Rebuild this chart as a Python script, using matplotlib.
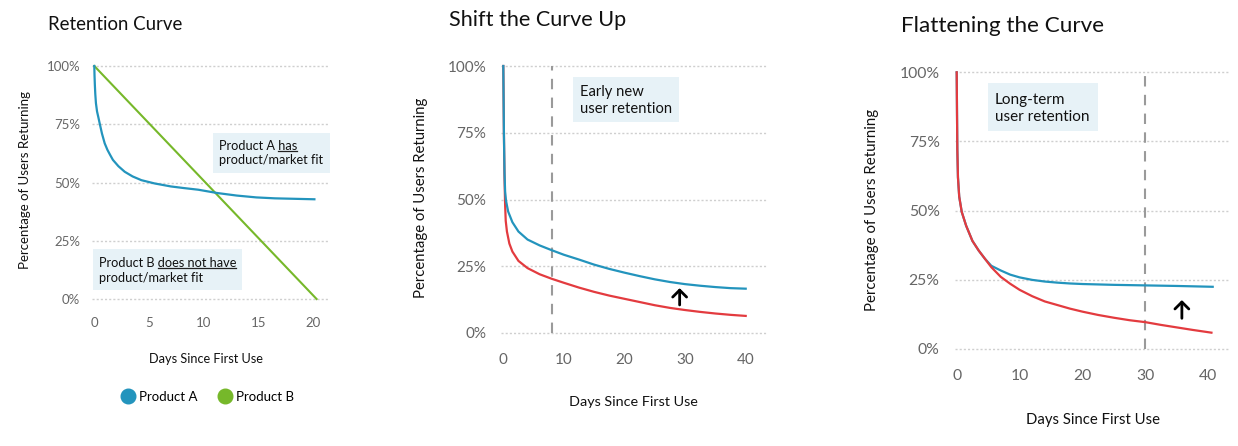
import matplotlib
matplotlib.use("Agg")
import matplotlib.pyplot as plt
from matplotlib.patches import Rectangle
from matplotlib.lines import Line2D

# ---------------- data ----------------
# Panel 1: Retention Curve
p1_days_a = [0, 0.02, 0.05, 0.09, 0.15, 0.25, 0.37, 0.49, 0.7, 0.95, 1.2, 1.45, 1.7, 2.2, 2.78, 3.5, 4.3, 5.5, 7.0, 8.2, 9.5, 11.2, 13, 14.8, 16.5, 18.3, 20.1]
p1_ret_a = [100, 96, 92, 88, 84, 80.5, 78, 75.4, 71, 66.8, 64, 61.8, 59.7, 57, 54.6, 52.6, 51, 49.6, 48.3, 47.6, 46.9, 45.5, 44.4, 43.6, 43.2, 43.0, 42.8]
p1_days_b = [0, 20.3]
p1_ret_b = [100, 0]

# Panel 2: Shift the Curve Up
p2_days_blue = [0, 0.1, 0.2, 0.3, 0.45, 0.8, 1.5, 2.5, 4, 6, 8, 10, 12.5, 15, 17.5, 20, 22.5, 25, 27.5, 30, 32.5, 35, 37.5, 40]
p2_ret_blue = [100, 75, 60, 53, 49.5, 45.5, 41.5, 38, 35, 32.8, 31, 29.3, 27.5, 25.6, 24, 22.6, 21.3, 20.1, 19.1, 18.3, 17.7, 17.2, 16.8, 16.6]
p2_days_red = [0, 0.1, 0.2, 0.3, 0.4, 0.6, 1, 1.5, 2.5, 4, 6, 8, 10, 12.5, 15, 17.5, 20, 22.5, 25, 27.5, 30, 32.5, 35, 37.5, 40]
p2_ret_red = [100, 75, 58, 48, 42, 38, 33.5, 30.5, 27, 24.3, 22, 20.3, 18.8, 17, 15.4, 14, 12.8, 11.6, 10.4, 9.4, 8.6, 7.9, 7.3, 6.8, 6.4]
p2_marker_day = 8
p2_arrow_day = 29.1
p2_arrow_from, p2_arrow_to = 10.5, 16.8

# Panel 3: Flattening the Curve
p3_days_blue = [0, 0.05, 0.1, 0.2, 0.4, 0.8, 1.5, 2.5, 3.5, 4.5, 5.5, 7, 8.5, 10, 12, 14, 16, 18, 20, 25, 30, 35, 40.7]
p3_ret_blue = [100, 85, 72, 62, 55, 49.5, 44.5, 39, 35.5, 32.5, 30, 28.3, 26.8, 25.8, 24.9, 24.3, 23.9, 23.6, 23.4, 23.1, 22.9, 22.7, 22.4]
p3_days_red = [0, 0.05, 0.1, 0.2, 0.4, 0.8, 1.5, 2.5, 3.5, 4.5, 5.5, 7, 8.5, 10, 12, 14, 16, 18, 20, 22.5, 25, 27.5, 30, 32.5, 35, 37.5, 40.5]
p3_ret_red = [100, 85, 72, 62, 55, 49.5, 44.5, 39, 35.5, 32.5, 29.5, 26, 23.5, 21.3, 19, 17.1, 15.8, 14.5, 13.4, 12.2, 11.2, 10.3, 9.6, 8.6, 7.7, 6.8, 5.8]
p3_marker_day = 30
p3_arrow_day = 35.8
p3_arrow_from, p3_arrow_to = 11, 17.6

y_ticks = [0, 25, 50, 75, 100]
y_tick_labels = ["0%", "25%", "50%", "75%", "100%"]
p1_x_ticks = [0, 5, 10, 15, 20]
p23_x_ticks = [0, 10, 20, 30, 40]

# ---------------- style ----------------
BLUE = "#2394bd"
GREEN = "#76b82a"
RED = "#e33b3f"
BOXC = "#e7f2f7"
GRID = "#cfcfcf"
TICKC = "#666666"
TXT = "#111111"
FONT = ["Lato", "DejaVu Sans"]
plt.rcParams['font.family'] = FONT

W, H = 1238, 446
fig = plt.figure(figsize=(W / 100, H / 100), dpi=100)


def make_ax(xd, xp, yd, yp, xlim, ylim):
    sx = (xp[1] - xp[0]) / (xd[1] - xd[0])
    sy = (yp[1] - yp[0]) / (yd[1] - yd[0])
    left = xp[0] + (xlim[0] - xd[0]) * sx
    right = xp[0] + (xlim[1] - xd[0]) * sx
    top = yp[0] + (ylim[1] - yd[0]) * sy
    bottom = yp[0] + (ylim[0] - yd[0]) * sy
    ax = fig.add_axes([left / W, 1 - bottom / H, (right - left) / W, (bottom - top) / H])
    ax.set_xlim(xlim)
    ax.set_ylim(ylim)
    for s in ax.spines.values():
        s.set_visible(False)
    ax.set_yticks(y_ticks)
    ax.set_yticklabels(y_tick_labels)
    ax.grid(axis='y', color=GRID, linestyle=(0, (1.5, 1.5)), linewidth=1.0)
    ax.set_axisbelow(True)
    ax.patch.set_alpha(0)
    return ax


def T(px, py, s, **kw):
    return fig.text(px / W, 1 - py / H, s, **kw)


def box(x0, y0, x1, y1):
    fig.patches.append(Rectangle((x0 / W, 1 - y1 / H), (x1 - x0) / W, (y1 - y0) / H,
                                 transform=fig.transFigure, facecolor=BOXC, edgecolor='none', zorder=0.5))


def underline_end(t, word, size):
    fig.canvas.draw()
    r = fig.canvas.get_renderer()
    bb = t.get_window_extent(r)
    tmp = fig.text(0, 0, word, fontsize=size)
    wb = tmp.get_window_extent(r)
    tmp.remove()
    y = bb.y0 + 1.0
    fig.add_artist(Line2D([(bb.x1 - wb.width) / W, bb.x1 / W], [y / H, y / H],
                          transform=fig.transFigure, color='#222222', lw=0.9))


# ---------------- panel 1 ----------------
ax1 = make_ax((0, 20), (94.3, 313.3), (0, 100), (299, 66), (-0.2, 21.55), (-3, 103))
ax1.set_xticks(p1_x_ticks)
ax1.tick_params(length=0, labelsize=9.5, labelcolor=TICKC)
ax1.tick_params(axis='y', pad=8.5)
ax1.tick_params(axis='x', pad=8)
ax1.plot(p1_days_b, p1_ret_b, color=GREEN, lw=1.5, label="Product B", zorder=3)
ax1.plot(p1_days_a, p1_ret_a, color=BLUE, lw=1.6, label="Product A", zorder=3)

T(48, 25, "Retention Curve", fontsize=13.4, va='center', ha='left', color=TXT)
T(206, 359, "Days Since First Use", fontsize=9.2, ha='center', va='center', color=TXT)
T(25, 180, "Percentage of Users Returning", fontsize=9.5, rotation=90, ha='center', va='center', color=TXT)

box(213, 133, 330, 173)
ta = T(219, 146, "Product A has", fontsize=9.2, va='center', ha='left', color=TXT)
T(219, 160, "product/market fit", fontsize=9.2, va='center', ha='left', color=TXT)
box(93, 249, 242, 290)
tb = T(99, 263, "Product B does not have", fontsize=9.2, va='center', ha='left', color=TXT)
T(99, 278, "product/market fit", fontsize=9.2, va='center', ha='left', color=TXT)

handles = [Line2D([], [], linestyle='none', marker='o', markersize=10.5, color=BLUE),
           Line2D([], [], linestyle='none', marker='o', markersize=10.5, color=GREEN)]
fig.legend(handles, ["Product A", "Product B"], loc='center', bbox_to_anchor=(207 / W, 1 - 397 / H),
           ncol=2, frameon=False, fontsize=9.5, handletextpad=0.2, columnspacing=1.5, handlelength=1.2)

# ---------------- panel 2 ----------------
ax2 = make_ax((0, 40), (503.3, 745.7), (0, 100), (333, 66), (-0.38, 43.5), (-3, 103))
ax2.set_xticks(p23_x_ticks)
ax2.tick_params(length=0, labelsize=11, labelcolor=TICKC)
ax2.tick_params(axis='y', pad=10.5)
ax2.tick_params(axis='x', pad=8.5)
ax2.plot([p2_marker_day, p2_marker_day], [0, 100], color='#9a9a9a', lw=1.5, linestyle=(0, (5, 4)), zorder=2)
ax2.plot(p2_days_red, p2_ret_red, color=RED, lw=1.6, zorder=3)
ax2.plot(p2_days_blue, p2_ret_blue, color=BLUE, lw=1.6, zorder=4)
ax2.annotate("", xy=(p2_arrow_day, p2_arrow_to), xytext=(p2_arrow_day, p2_arrow_from),
             arrowprops=dict(arrowstyle='->,head_width=0.5,head_length=0.5', color='black', lw=2.0,
                             shrinkA=0, shrinkB=0))

T(449, 20, "Shift the Curve Up", fontsize=15.6, va='center', ha='left', color=TXT)
T(633, 402, "Days Since First Use", fontsize=10.4, ha='center', va='center', color=TXT)
T(420.7, 198, "Percentage of Users Returning", fontsize=10.7, rotation=90, ha='center', va='center', color=TXT)
box(573, 77, 679, 122)
T(580, 92, "Early new", fontsize=10.6, va='center', ha='left', color=TXT)
T(580, 108.7, "user retention", fontsize=10.6, va='center', ha='left', color=TXT)

# ---------------- panel 3 ----------------
ax3 = make_ax((0, 40), (956.7, 1208.3), (0, 100), (348.7, 72.3), (-0.27, 43.4), (-3, 103))
ax3.set_xticks(p23_x_ticks)
ax3.tick_params(length=0, labelsize=11.3, labelcolor=TICKC)
ax3.tick_params(axis='y', pad=11)
ax3.tick_params(axis='x', pad=8.5)
ax3.plot([p3_marker_day, p3_marker_day], [0, 100], color='#9a9a9a', lw=1.5, linestyle=(0, (5, 4)), zorder=2)
ax3.plot(p3_days_blue, p3_ret_blue, color=BLUE, lw=1.6, zorder=3)
ax3.plot(p3_days_red, p3_ret_red, color=RED, lw=1.6, zorder=4)
ax3.annotate("", xy=(p3_arrow_day, p3_arrow_to), xytext=(p3_arrow_day, p3_arrow_from),
             arrowprops=dict(arrowstyle='->,head_width=0.5,head_length=0.5', color='black', lw=2.0,
                             shrinkA=0, shrinkB=0))

T(900.7, 26, "Flattening the Curve", fontsize=16.2, va='center', ha='left', color=TXT)
T(1092.7, 420, "Days Since First Use", fontsize=10.7, ha='center', va='center', color=TXT)
T(871.7, 210, "Percentage of Users Returning", fontsize=10.8, rotation=90, ha='center', va='center', color=TXT)
box(988, 83, 1098, 131)
T(995, 99.7, "Long-term", fontsize=11, va='center', ha='left', color=TXT)
T(995, 117, "user retention", fontsize=11, va='center', ha='left', color=TXT)

# underlines
underline_end(ta, "has", 9.2)
underline_end(tb, "does not have", 9.2)

fig.savefig("out.png", dpi=100)
